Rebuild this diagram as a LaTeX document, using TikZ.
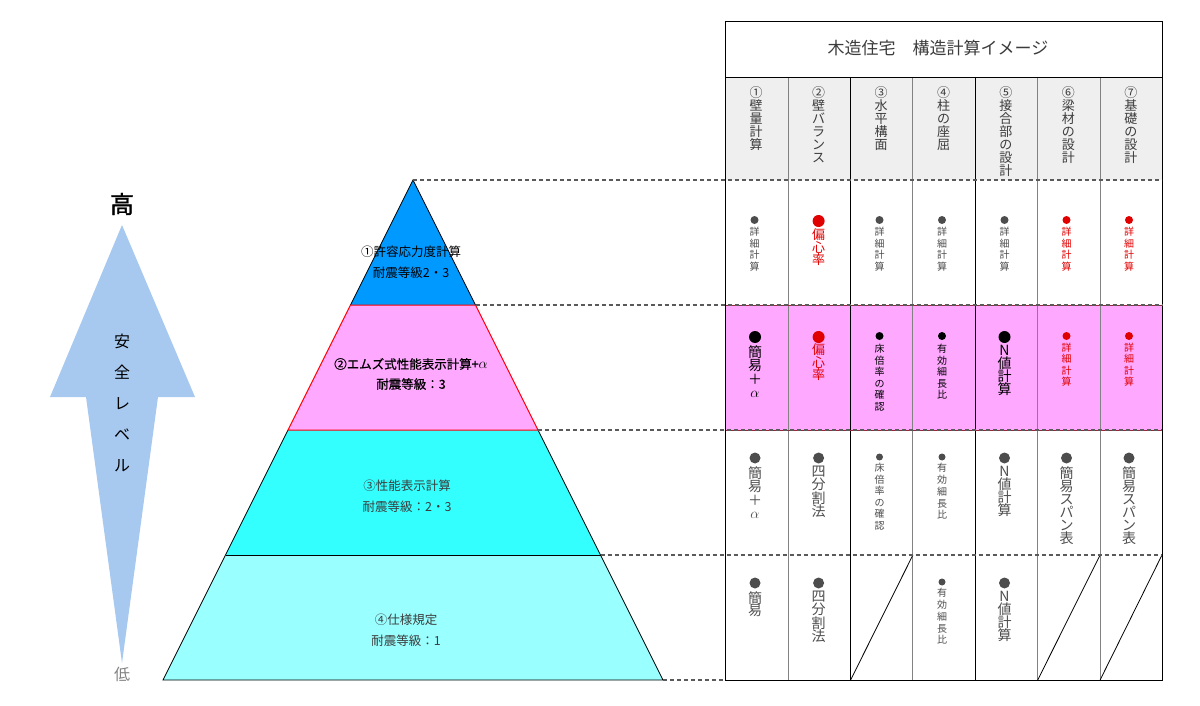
\documentclass[tikz,border=0pt]{standalone}
\usepackage{fontspec}
\newfontfamily\jp{Noto Sans CJK JP}
\newfontfamily\jpfb{Noto Sans CJK JP}[FakeBold=1.5]
\newfontfamily\jpmb{Noto Sans CJK JP}[FakeBold=0.6]
\definecolor{arrowblue}{RGB}{167,201,240}
\definecolor{lone}{RGB}{0,153,255}
\definecolor{ltwo}{RGB}{255,168,255}
\definecolor{lthree}{RGB}{51,255,255}
\definecolor{lfour}{RGB}{153,255,255}
\definecolor{headgray}{RGB}{239,239,239}
\definecolor{txtgray}{RGB}{77,77,77}
\definecolor{hdgray}{RGB}{60,60,60}
\definecolor{myred}{RGB}{225,0,0}
\definecolor{dashgray}{RGB}{90,90,90}
\definecolor{rowred}{RGB}{150,40,60}
\definecolor{colgray}{RGB}{130,130,130}
\tikzset{
  vt/.style={anchor=north, inner sep=0pt, align=center},
  dashconn/.style={dashgray, line width=1.1pt, dash pattern=on 4pt off 3pt},
  pyrtxt/.style={inner sep=0pt, font=\jp\fontsize{12.5}{12.5}\selectfont},
  bulletdot/.style={circle, inner sep=0pt}
}
\newcommand\vtx[7]{\node[vt, text=#6, font=\jp\fontsize{#4}{#5}\selectfont] (#1) at (#2,#3) {#7};}
\newcommand\bul[5]{\node[bulletdot, fill=#5, minimum size=#4pt] (#1) at (#2,#3) {};}
\newcommand\alp{\fontsize{15}{15}\selectfont$\alpha$}
\begin{document}
\begin{tikzpicture}[x=1pt,y=-1pt]
\useasboundingbox (0,0) rectangle (1200,706);
% ---------- arrow ----------
\fill[arrowblue] (122,225) -- (195,397) -- (158,397) -- (122,663) -- (86,397) -- (50,397) -- cycle;
\node[inner sep=0pt, font=\jpfb\fontsize{24}{24}\selectfont] (hi) at (122,204) {高};
\node[inner sep=0pt, text=colgray, font=\jp\fontsize{16}{16}\selectfont] (lo) at (122,674) {低};
\vtx{lvl}{122}{334}{16}{31}{black}{安\\全\\レ\\ベ\\ル}
% ---------- pyramid ----------
\coordinate (p0) at (413,180);
\coordinate (p1l) at (350.5,305); \coordinate (p1r) at (475.5,305);
\coordinate (p2l) at (288,430);   \coordinate (p2r) at (538,430);
\coordinate (p3l) at (225.5,555); \coordinate (p3r) at (600.5,555);
\coordinate (p4l) at (163,680);   \coordinate (p4r) at (663,680);
\fill[lfour] (p3l) -- (p3r) -- (p4r) -- (p4l) -- cycle;
\fill[lthree] (p2l) -- (p2r) -- (p3r) -- (p3l) -- cycle;
\fill[ltwo] (p1l) -- (p1r) -- (p2r) -- (p2l) -- cycle;
\fill[lone] (p0) -- (p1r) -- (p1l) -- cycle;
\draw[black, line width=0.8pt] (p1l) -- (p0) -- (p1r);
\draw[black, line width=0.8pt] (p2r) -- (p3r) -- (p4r) -- (p4l) -- (p3l) -- (p2l);
\draw[black, line width=1pt] (p3l) -- (p3r);
\draw[red, line width=1pt] (p1l) -- (p1r) -- (p2r) -- (p2l) -- cycle;
\node[pyrtxt] (t1a) at (411,252) {①許容応力度計算};
\node[pyrtxt] (t1b) at (411,273) {耐震等級2・3};
\node[pyrtxt, font=\jpmb\fontsize{12.5}{12.5}\selectfont] (t2a) at (411,364) {②エムズ式性能表示計算+\alp};
\node[pyrtxt, font=\jpmb\fontsize{12.5}{12.5}\selectfont] (t2b) at (411,384) {耐震等級：3};
\node[pyrtxt, text=hdgray] (t3a) at (407,486) {③性能表示計算};
\node[pyrtxt, text=hdgray] (t3b) at (407,507) {耐震等級：2・3};
\node[pyrtxt, text=hdgray] (t4a) at (406,620) {④仕様規定};
\node[pyrtxt, text=hdgray] (t4b) at (406,641) {耐震等級：1};
% ---------- table ----------
\fill[headgray] (725,77) rectangle (1162,180);
\fill[ltwo] (725,305) rectangle (1162,430);
\foreach \x in {788.4,912.9,1037.7,1100.1} \draw[colgray, line width=0.9pt] (\x,77) -- (\x,680);
\foreach \x in {850.6,975.3} \draw[black, line width=0.9pt] (\x,77) -- (\x,680);
\draw[black, line width=0.8pt] (725,77) -- (1162,77);
\draw[rowred, line width=1pt] (725,305) -- (1162,305) (725,430) -- (1162,430);
\draw[black, line width=1pt] (725,22) rectangle (1162,680);
% diagonals
\draw[black, line width=0.8pt] (850.6,680) -- (912.9,555);
\draw[black, line width=0.8pt] (1037.7,680) -- (1100.1,555);
\draw[black, line width=0.8pt] (1100.1,680) -- (1162,555);
% dashed connectors
\coordinate (q0) at (1162,180); \coordinate (q1) at (1162,305);
\coordinate (q2) at (1162,430); \coordinate (q3) at (1162,555);
\coordinate (q4) at (725,680);
\draw[dashconn] (p0) -- (q0);
\draw[dashconn] (p1r) -- (q1);
\draw[dashconn] (p2r) -- (q2);
\draw[dashconn] (p3r) -- (q3);
\draw[dashconn] (p4r) -- (q4);
% title
\node[inner sep=0pt, text=hdgray, font=\jp\fontsize{17}{17}\selectfont] (title) at (938,48) {木造住宅　構造計算イメージ};
% header
\vtx{h1}{756.2}{86.5}{13}{13}{hdgray}{①\\壁\\量\\計\\算}
\vtx{h2}{818.6}{86.5}{13}{13}{hdgray}{②\\壁\\バ\\ラ\\ン\\ス}
\vtx{h3}{881.1}{86.5}{13}{13}{hdgray}{③\\水\\平\\構\\面}
\vtx{h4}{943.5}{86.5}{13}{13}{hdgray}{④\\柱\\の\\座\\屈}
\vtx{h5}{1005.9}{86.5}{13}{13}{hdgray}{⑤\\接\\合\\部\\の\\設\\計}
\vtx{h6}{1068.4}{86.5}{13}{13}{hdgray}{⑥\\梁\\材\\の\\設\\計}
\vtx{h7}{1130.8}{86.5}{13}{13}{hdgray}{⑦\\基\\礎\\の\\設\\計}
% row 1
\bul{a1b}{754.5}{220}{8}{txtgray}  \vtx{a1t}{754.5}{227}{10}{11.5}{txtgray}{詳\\細\\計\\算}
\bul{a2b}{818.6}{221}{12}{myred}   \vtx{a2t}{818.6}{228.5}{13}{12.5}{myred}{偏\\心\\率}
\bul{a3b}{879.5}{220}{8}{txtgray}  \vtx{a3t}{879.5}{227}{10}{11.5}{txtgray}{詳\\細\\計\\算}
\bul{a4b}{942}{220}{8}{txtgray}    \vtx{a4t}{942}{227}{10}{11.5}{txtgray}{詳\\細\\計\\算}
\bul{a5b}{1004.5}{220}{8}{txtgray} \vtx{a5t}{1004.5}{227}{10}{11.5}{txtgray}{詳\\細\\計\\算}
\bul{a6b}{1066.5}{220}{8}{myred}   \vtx{a6t}{1066.5}{227}{10}{11.5}{myred}{詳\\細\\計\\算}
\bul{a7b}{1129}{220}{8}{myred}     \vtx{a7t}{1129}{227}{10}{11.5}{myred}{詳\\細\\計\\算}
% row 2
\bul{b1b}{755}{337}{12}{black}     \vtx{b1t}{755}{345}{14}{13.5}{black}{簡\\易\\＋\\\alp}
\bul{b2b}{818.6}{337}{12}{myred}   \vtx{b2t}{818.6}{343.5}{13}{12.5}{myred}{偏\\心\\率}
\bul{b3b}{879.5}{336}{8}{black}    \vtx{b3t}{879.5}{344}{10}{11.5}{black}{床\\倍\\率\\の\\確\\認}
\bul{b4b}{942}{336}{8}{black}      \vtx{b4t}{942}{344}{10}{11.5}{black}{有\\効\\細\\長\\比}
\bul{b5b}{1004.5}{337}{12}{black}  \vtx{b5t}{1004.5}{345}{14}{13}{black}{N\\値\\計\\算}
\bul{b6b}{1066.5}{336}{8}{myred}   \vtx{b6t}{1066.5}{343}{10}{11.3}{myred}{詳\\細\\計\\算}
\bul{b7b}{1129}{336}{8}{myred}     \vtx{b7t}{1129}{343}{10}{11.3}{myred}{詳\\細\\計\\算}
% row 3
\bul{c1b}{755}{458}{11}{txtgray}   \vtx{c1t}{755}{466}{14}{13.5}{txtgray}{簡\\易\\＋\\\alp}
\bul{c2b}{818.6}{458}{11}{txtgray} \vtx{c2t}{818.6}{466}{14}{13.3}{txtgray}{四\\分\\割\\法}
\bul{c3b}{879.5}{457}{7}{txtgray}  \vtx{c3t}{879.5}{463}{10}{11.5}{txtgray}{床\\倍\\率\\の\\確\\認}
\bul{c4b}{942}{457}{7}{txtgray}    \vtx{c4t}{942}{463}{10}{11.8}{txtgray}{有\\効\\細\\長\\比}
\bul{c5b}{1004.5}{458}{11}{txtgray} \vtx{c5t}{1004.5}{466}{14}{13}{txtgray}{N\\値\\計\\算}
\bul{c6b}{1066.5}{458}{11}{txtgray} \vtx{c6t}{1066.5}{466}{14}{13}{txtgray}{簡\\易\\ス\\パ\\ン\\表}
\bul{c7b}{1129}{458}{11}{txtgray}  \vtx{c7t}{1129}{466}{14}{13}{txtgray}{簡\\易\\ス\\パ\\ン\\表}
% row 4
\bul{d1b}{755}{583}{11}{txtgray}   \vtx{d1t}{755}{591}{14}{12.5}{txtgray}{簡\\易}
\bul{d2b}{818.6}{583}{11}{txtgray} \vtx{d2t}{818.6}{591}{14}{13.3}{txtgray}{四\\分\\割\\法}
\bul{d4b}{942}{582}{7}{txtgray}    \vtx{d4t}{942}{588}{10}{11.8}{txtgray}{有\\効\\細\\長\\比}
\bul{d5b}{1004.5}{583}{11}{txtgray} \vtx{d5t}{1004.5}{591}{14}{13}{txtgray}{N\\値\\計\\算}
\end{tikzpicture}
\end{document}
